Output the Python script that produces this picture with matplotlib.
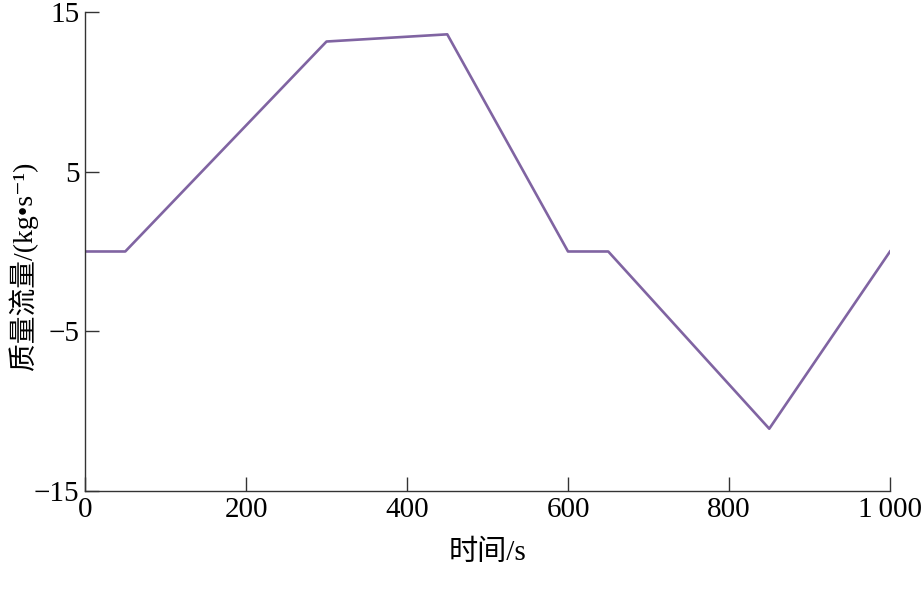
import matplotlib
matplotlib.use("Agg")
import matplotlib.pyplot as plt

# data
time_s = [0, 50, 300, 450, 600, 650, 850, 1000]
mass_flow = [0, 0, 13.15, 13.6, 0, 0, -11.1, 0]

x_ticks = [0, 200, 400, 600, 800, 1000]
x_tick_labels = ["0", "200", "400", "600", "800", "1\u2009000"]
y_ticks = [-15, -5, 5, 15]
y_tick_labels = ["\u221215", "\u22125", "5", "15"]

plt.rcParams['font.family'] = ['Liberation Serif', 'Noto Sans CJK SC', 'DejaVu Sans']
plt.rcParams['font.size'] = 21

fig = plt.figure(figsize=(9.22, 5.9), dpi=100)
ax = fig.add_axes([0.0922, 0.1678, 0.8731, 0.8119])

ax.plot(time_s, mass_flow, color='#8064A2', linewidth=1.9)

ax.set_xlim(0, 1000)
ax.set_ylim(-15, 15)
ax.set_xticks(x_ticks)
ax.set_xticklabels(x_tick_labels)
ax.set_yticks(y_ticks)
ax.set_yticklabels(y_tick_labels)

for side in ['top', 'right']:
    ax.spines[side].set_visible(False)
for side in ['left', 'bottom']:
    ax.spines[side].set_linewidth(1.0)
    ax.spines[side].set_color('#333333')

ax.tick_params(direction='in', length=10, width=1.0, color='#333333', pad=4)

ax.set_xlabel("时间/s", labelpad=12)
ax.set_ylabel("质量流量/(kg\u2022s\u207b\u00b9)", fontsize=20)
ax.yaxis.set_label_coords(-0.058, 0.47)

fig.savefig("out.png", dpi=100)
